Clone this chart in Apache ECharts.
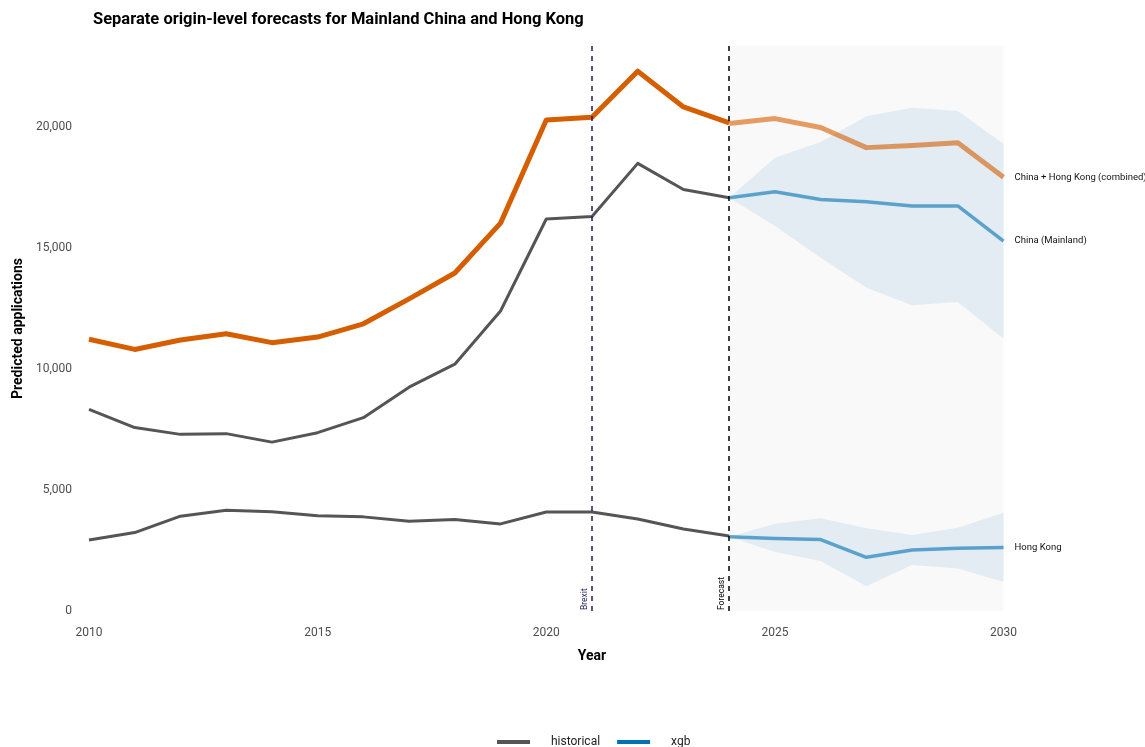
<!DOCTYPE html>
<html><head><meta charset="utf-8">
<script src="https://cdn.jsdelivr.net/npm/echarts@6/dist/echarts.min.js"></script>
<style>html,body{margin:0;padding:0;background:#fff}#c{width:1145px;height:747px}</style>
</head><body><div id="c"></div>
<script>
const histYears = [2010,2011,2012,2013,2014,2015,2016,2017,2018,2019,2020,2021,2022,2023,2024];
const histMainland = [8330,7580,7300,7330,6980,7370,7990,9250,10200,12400,16200,16300,18500,17420,17080];
const histHongKong = [2930,3240,3920,4160,4100,3940,3890,3710,3780,3600,4090,4090,3800,3390,3100];
const histCombined = [11230,10810,11200,11460,11090,11320,11870,12900,13970,16030,20290,20410,22310,20830,20170];
const fcYears = [2024,2025,2026,2027,2028,2029,2030];
const fcCombined = [20150,20350,19980,19150,19240,19350,17930];
const fcMainland = [17080,17330,17010,16910,16740,16740,15290];
const fcMainlandLow = [17080,15910,14600,13360,12640,12770,11250];
const fcMainlandHigh = [17080,18730,19380,20450,20800,20660,19310];
const fcHongKong = [3070,3000,2950,2220,2520,2590,2620];
const fcHongKongLow = [3070,2440,2070,1020,1900,1760,1200];
const fcHongKongHigh = [3070,3610,3830,3420,3140,3440,4060];
const events = [{year:2021,label:'Brexit',color:'#1c1c5a'},{year:2024,label:'Forecast',color:'#000000'}];
const endLabels = {combined:'China + Hong Kong (combined)', mainland:'China (Mainland)', hk:'Hong Kong'};

const FONT = 'Roboto';
const pair = (xs, ys) => xs.map((x,i)=>[x, ys[i]]);

function bandSeries(name, lows, highs){
  return {
    type:'custom', name:name, silent:true, z:1,
    data:[[fcYears[0], lows[0]]],
    renderItem:function(params, api){
      const pts = [];
      for (let i=0;i<fcYears.length;i++) pts.push(api.coord([fcYears[i], highs[i]]));
      for (let i=fcYears.length-1;i>=0;i--) pts.push(api.coord([fcYears[i], lows[i]]));
      return {type:'polygon', shape:{points:pts}, style:{fill:'rgba(0,114,178,0.09)'}};
    }
  };
}
function line(name, xs, ys, color, width, z, endText){
  const s = {type:'line', name:name, data:pair(xs,ys), showSymbol:false, symbol:'none', z:z,
    lineStyle:{color:color, width:width, cap:'butt', join:'round'}, itemStyle:{color:color}, silent:true};
  if (endText){
    s.endLabel = {show:true, formatter:endText, distance:11, color:'#111', fontFamily:FONT, fontSize:9.5};
  }
  return s;
}

const chart = echarts.init(document.getElementById('c'));
const series = [
  {type:'line', name:'bg', data:[], markArea:{silent:true, itemStyle:{color:'#f9f9f9'}, data:[[{xAxis:2024},{xAxis:2030}]]}, z:0},
  bandSeries('bandM', fcMainlandLow, fcMainlandHigh),
  bandSeries('bandH', fcHongKongLow, fcHongKongHigh),
  line('historical', histYears, histMainland, '#555555', 3, 3),
  line('historical', histYears, histHongKong, '#555555', 3, 3),
  line('combined', histYears, histCombined, '#D55E00', 5, 4),
  line('combined_fc', fcYears, fcCombined, 'rgba(213,94,0,0.6)', 5, 4, endLabels.combined),
  line('xgb', fcYears, fcMainland, 'rgba(0,114,178,0.6)', 3.5, 4, endLabels.mainland),
  line('xgb', fcYears, fcHongKong, 'rgba(0,114,178,0.6)', 3.5, 4, endLabels.hk),
  {type:'line', name:'events', data:[], z:6, markLine:{silent:true, symbol:['none','none'],
    data: events.map(e=>({xAxis:e.year, lineStyle:{color:e.color, type:[5,5], width:1.5},
      label:{show:true, formatter:e.label, position:'insideStartTop', distance:[1,3], color:e.color, fontSize:8.5, fontFamily:FONT}}))}}
];

chart.setOption({
  animation:false,
  backgroundColor:'#ffffff',
  title:{text:'Separate origin-level forecasts for Mainland China and Hong Kong', left:88, top:6,
    textStyle:{fontFamily:FONT, fontWeight:'bold', fontSize:16.5, color:'#000'}},
  grid:{left:89, right:50, top:46, bottom:136, containLabel:false},
  legend:{top:731, left:492, icon:'rect', itemWidth:33, itemHeight:4, itemGap:17, selectedMode:false,
    textStyle:{fontFamily:FONT, fontSize:12, color:'#222', padding:[0,0,0,16]},
    data:[{name:'historical', itemStyle:{color:'#555555'}}, {name:'xgb', itemStyle:{color:'#0072B2'}}]},
  xAxis:{type:'value', min:2010, max:2032, interval:5, name:'Year', nameLocation:'middle', nameGap:38,
    nameTextStyle:{fontFamily:FONT, fontWeight:'bold', fontSize:14, color:'#000'},
    axisLine:{show:false}, axisTick:{show:false}, splitLine:{show:false},
    axisLabel:{margin:16, fontFamily:FONT, fontSize:12, color:'#4d4d4d', formatter:v=> (v%5===0 && v<=2030) ? String(v) : ''}},
  yAxis:{type:'value', min:0, max:23350, interval:5000, name:'Predicted applications', nameLocation:'middle', nameGap:63,
    nameTextStyle:{fontFamily:FONT, fontWeight:'bold', fontSize:14, color:'#000'},
    axisLine:{show:false}, axisTick:{show:false}, splitLine:{show:false},
    axisLabel:{margin:17, fontFamily:FONT, fontSize:12, color:'#4d4d4d', formatter:v=> (v%5000===0) ? v.toLocaleString('en-US') : ''}},
  series:series
});
</script></body></html>
